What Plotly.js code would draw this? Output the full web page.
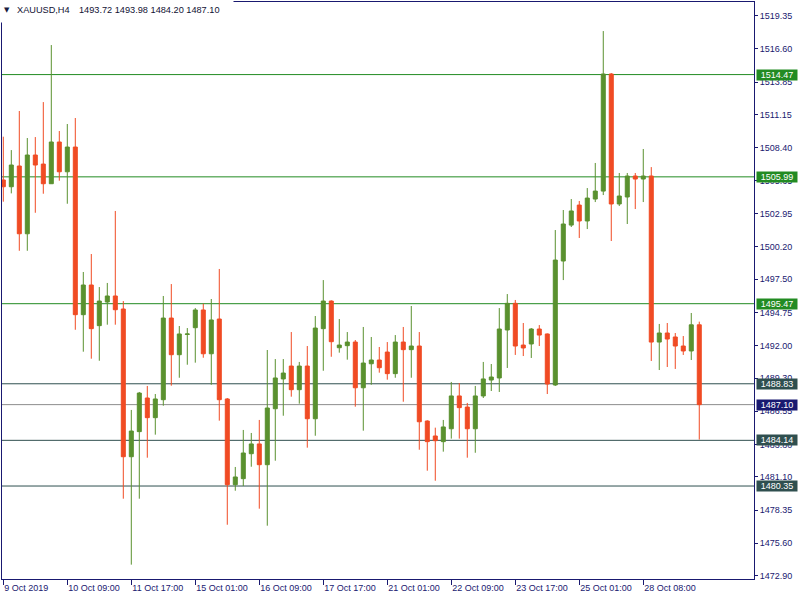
<!DOCTYPE html>
<html>
<head>
<meta charset="utf-8">
<script src="https://cdn.plot.ly/plotly-3.0.1.min.js"></script>
<style>html,body{margin:0;padding:0;background:#fff;}#chart{width:800px;height:600px;}</style>
</head>
<body>
<div id="chart"></div>
<script>
// XAUUSD H4 candles (oldest -> newest)
var opens = [1505.73,1505.17,1506.89,1501.27,1507.80,1507.05,1505.42,1508.88,1506.41,1508.46,
  1494.56,1497.02,1493.65,1495.61,1496.11,1495.03,1482.78,1484.86,1487.65,1486.02,
  1487.51,1494.28,1491.24,1492.92,1493.48,1494.95,1491.32,1494.20,1487.57,1480.46,
  1480.96,1483.03,1483.84,1482.12,1486.76,1489.23,1490.30,1488.34,1490.30,1485.93,
  1493.40,1495.69,1491.82,1491.99,1492.29,1488.50,1490.49,1490.80,1491.46,1489.67,
  1492.29,1491.66,1491.96,1485.74,1484.50,1484.03,1485.10,1487.82,1486.90,1485.10,
  1487.82,1489.14,1489.31,1493.29,1495.50,1492.04,1492.13,1493.37,1492.96,1488.73,
  1499.01,1501.99,1503.65,1502.33,1504.15,1504.81,1514.52,1503.74,1504.32,1506.06,
  1505.81,1506.06,1492.29,1493.04,1492.71,1491.96,1491.55,1493.72];
var highs = [1509.32,1508.21,1511.45,1509.21,1509.29,1512.19,1516.92,1509.79,1510.37,1510.87,
  1498.10,1499.59,1496.85,1497.19,1503.16,1495.69,1486.66,1488.15,1488.65,1487.98,
  1496.11,1497.10,1493.62,1493.45,1495.11,1495.47,1495.86,1498.35,1487.65,1481.93,
  1485.00,1484.75,1485.83,1491.63,1490.88,1490.88,1493.12,1490.64,1491.96,1494.45,
  1497.43,1495.75,1494.20,1493.12,1492.46,1493.54,1492.71,1491.88,1492.29,1492.87,
  1493.54,1495.28,1493.12,1485.80,1485.19,1485.83,1488.98,1488.89,1487.24,1488.65,
  1490.64,1490.47,1495.11,1496.27,1495.78,1493.87,1493.45,1493.70,1493.00,1501.58,
  1503.24,1504.15,1503.99,1505.06,1507.14,1518.08,1514.60,1506.31,1506.31,1506.31,
  1508.30,1506.80,1493.79,1493.87,1493.04,1492.79,1494.70,1493.98];
var lows = [1503.93,1504.62,1499.86,1499.86,1503.01,1504.59,1505.40,1505.67,1503.76,1493.31,
  1491.49,1490.91,1490.74,1493.73,1493.73,1479.30,1473.83,1479.30,1482.70,1484.61,
  1487.01,1488.67,1489.33,1490.41,1490.58,1490.99,1488.75,1485.77,1477.14,1479.96,
  1480.35,1481.95,1478.47,1477.06,1482.45,1486.18,1487.76,1487.18,1483.53,1484.52,
  1489.91,1491.07,1491.41,1490.83,1486.93,1484.94,1488.75,1489.75,1489.17,1489.33,
  1487.34,1489.33,1483.36,1481.62,1480.79,1483.20,1484.28,1484.28,1482.70,1483.11,
  1487.65,1488.23,1488.15,1490.14,1491.22,1491.13,1490.97,1491.96,1487.98,1488.65,
  1497.43,1501.83,1500.92,1501.66,1503.90,1504.48,1500.67,1503.57,1502.08,1503.32,
  1503.90,1490.72,1489.97,1490.22,1490.06,1491.22,1490.80,1484.20];
var closes = [1505.17,1506.97,1501.27,1507.80,1506.97,1505.42,1508.88,1506.41,1508.46,1494.56,
  1497.02,1493.40,1495.69,1496.11,1494.97,1482.78,1484.91,1488.06,1486.02,1487.57,
  1494.28,1491.24,1492.96,1492.96,1494.95,1491.32,1494.12,1487.51,1480.46,1481.10,
  1483.09,1483.84,1482.12,1486.82,1489.31,1489.72,1488.34,1490.30,1485.93,1493.45,
  1495.69,1492.32,1492.04,1492.29,1488.50,1490.55,1490.80,1490.16,1489.67,1492.29,
  1491.66,1491.96,1485.68,1484.03,1484.11,1485.25,1487.82,1486.85,1485.10,1487.82,
  1489.23,1489.39,1493.37,1495.50,1491.96,1491.80,1493.37,1492.87,1488.81,1499.09,
  1502.08,1503.16,1502.33,1504.23,1504.81,1514.52,1503.74,1504.40,1506.06,1505.81,
  1506.06,1492.29,1493.04,1492.54,1491.96,1491.55,1493.72,1487.10];

var tickIdx = [0, 8, 16, 24, 32, 40, 48, 56, 64, 72, 80];
var tickLabels = ["9 Oct 2019","10 Oct 09:00","11 Oct 17:00","15 Oct 01:00","16 Oct 09:00",
  "17 Oct 17:00","21 Oct 01:00","22 Oct 09:00","23 Oct 17:00","25 Oct 01:00","28 Oct 08:00"];

var priceTicks = [1519.35,1516.60,1513.85,1511.15,1508.40,1505.65,1502.95,1500.20,1497.50,
  1494.75,1492.00,1489.30,1486.55,1483.80,1481.10,1478.35,1475.60,1472.90];
var priceTickText = ["1519.35","1516.60","1513.85","1511.15","1508.40","1505.65","1502.95","1500.20","1497.50",
  "1494.75","1492.00","1489.30","1486.55","1483.80","1481.10","1478.35","1475.60","1472.90"];

var levelsGreen = [1514.47, 1505.99, 1495.47];
var levelsSlate = [1488.83, 1484.14, 1480.35];
var bidLevel = 1487.10;
var headerSymbol = "XAUUSD,H4";
var headerValues = "1493.72 1493.98 1484.20 1487.10";

var idx = opens.map(function(_, i){ return i; });

var NAVY = '#191970', GREEN_C = '#5A912F', RED_C = '#F04B24';
var FONT = 'Liberation Sans, Arial, sans-serif';

var trace = {
  type: 'candlestick', x: idx, open: opens, high: highs, low: lows, close: closes,
  increasing: {line: {color: GREEN_C, width: 1}, fillcolor: GREEN_C},
  decreasing: {line: {color: RED_C, width: 1}, fillcolor: RED_C},
  whiskerwidth: 0, hoverinfo: 'skip', showlegend: false
};

var shapes = [], annotations = [];
function addLevel(v, lineColor, boxColor) {
  shapes.push({type:'line', xref:'paper', x0:0, x1:1, yref:'y', y0:v, y1:v,
    line:{color:lineColor, width:1}, layer:'below'});
  annotations.push({xref:'paper', x:1, xanchor:'left', xshift:1.5, yref:'y', y:v, yanchor:'middle',
    text: v.toFixed(2), showarrow:false, bgcolor:boxColor, borderpad:0, width:40, height:10,
    font:{family:FONT, size:9, color:'#ffffff'}});
}
levelsGreen.forEach(function(v){ addLevel(v, '#228B22', '#228B22'); });
levelsSlate.forEach(function(v){ addLevel(v, '#2F4F4F', '#2F4F4F'); });
addLevel(bidLevel, '#8C8C8C', NAVY);

// header: white box covering the frame corner, triangle, symbol and OHLC values
annotations.push({xref:'paper', yref:'paper', x:0, y:1, xanchor:'left', yanchor:'top',
  xshift:-2, yshift:2, showarrow:false, bgcolor:'#ffffff', width:232, height:21,
  text:' ', font:{family:FONT, size:9, color:'#000000'}, borderpad:0});
annotations.push({xref:'paper', yref:'paper', x:0, y:1, xanchor:'left', yanchor:'middle',
  xshift:1, yshift:-8, showarrow:false, text:'\u25BC', font:{family:'DejaVu Sans', size:7, color:'#1a1a40'}, borderpad:0});
annotations.push({xref:'paper', yref:'paper', x:0, y:1, xanchor:'left', yanchor:'middle',
  xshift:14, yshift:-8, showarrow:false, text:headerSymbol, font:{family:FONT, size:9.2, color:'#111133'}, borderpad:0});
annotations.push({xref:'paper', yref:'paper', x:0, y:1, xanchor:'left', yanchor:'middle',
  xshift:76, yshift:-8, showarrow:false, text:headerValues, font:{family:FONT, size:9.2, color:'#111133'}, borderpad:0});

var layout = {
  width: 800, height: 600,
  margin: {l: 2, r: 46, t: 2, b: 21},
  paper_bgcolor: '#ffffff', plot_bgcolor: '#ffffff',
  boxgap: 0.5, boxgroupgap: 0,
  showlegend: false,
  xaxis: {
    range: [-0.1625, 93.84], showgrid: false, zeroline: false,
    showline: true, linecolor: NAVY, linewidth: 1, mirror: true,
    ticks: 'outside', ticklen: 5, tickcolor: NAVY, tickwidth: 1,
    tickvals: tickIdx, ticktext: tickLabels, ticklabelposition: 'outside right',
    tickfont: {family: FONT, size: 9, color: NAVY},
    rangeslider: {visible: false}, fixedrange: true
  },
  yaxis: {
    side: 'right', range: [1472.64, 1520.49], showgrid: false, zeroline: false,
    showline: true, linecolor: NAVY, linewidth: 1, mirror: true,
    ticks: 'outside', ticklen: 3, tickcolor: NAVY, tickwidth: 1,
    tickvals: priceTicks, ticktext: priceTickText,
    tickfont: {family: FONT, size: 9, color: NAVY}, fixedrange: true
  },
  shapes: shapes,
  annotations: annotations
};

Plotly.newPlot('chart', [trace], layout, {staticPlot: true, displayModeBar: false});
</script>
</body>
</html>
